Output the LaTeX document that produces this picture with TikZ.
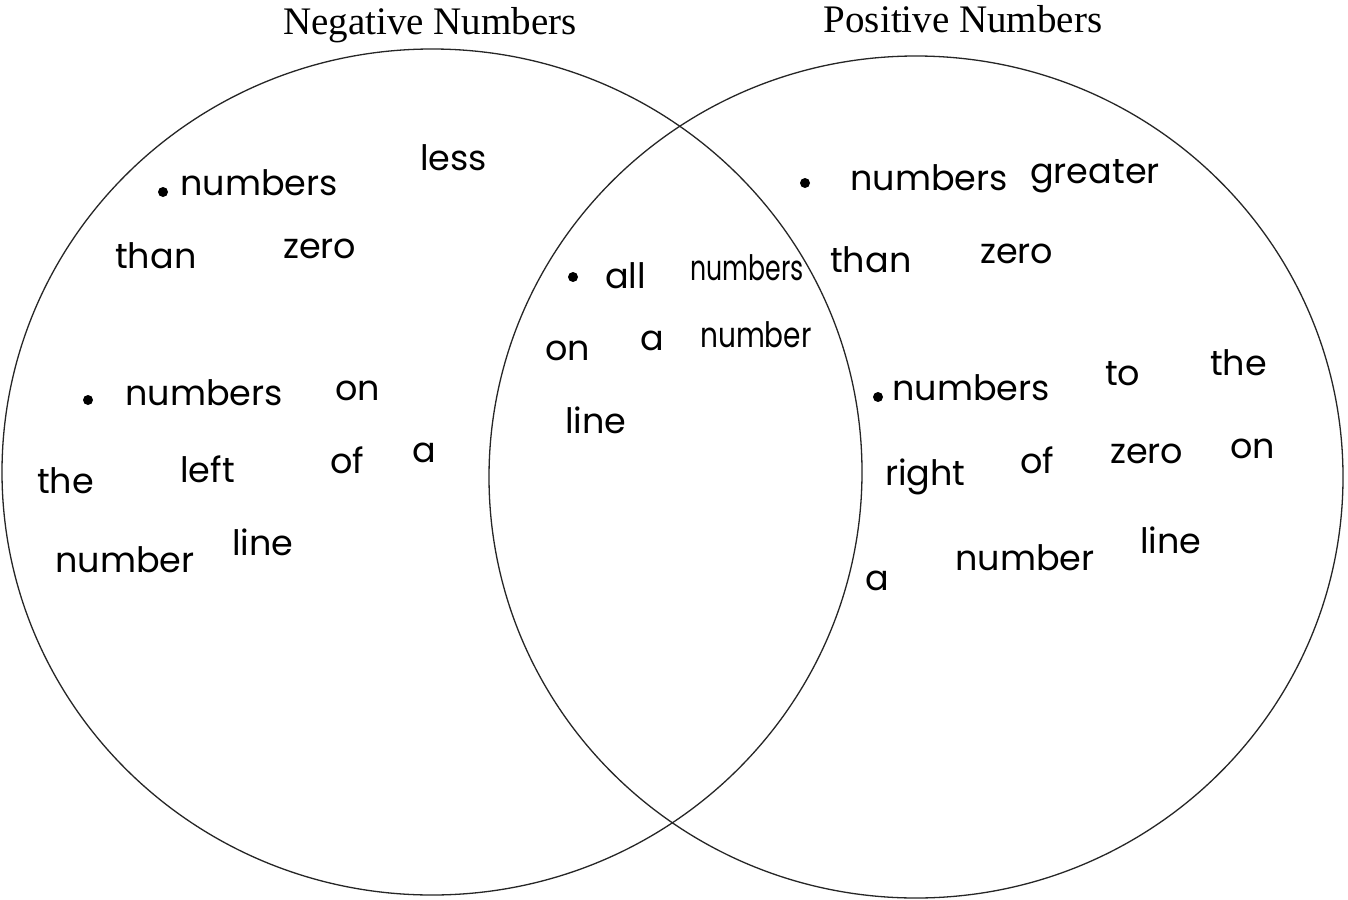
\documentclass[tikz,border=0pt]{standalone}
\usepackage{fontspec}
\setmainfont{Liberation Serif}
\newfontfamily\hwfont{Poppins}
\begin{document}
\begin{tikzpicture}[x=1pt,y=-1pt,
  ring/.style={draw=black!85,line width=1.3pt},
  title/.style={inner sep=0pt,anchor=base,font=\fontsize{39}{42}\selectfont},
  hw/.style={inner sep=0pt,anchor=base west,font=\hwfont\fontsize{35}{38}\selectfont},
  dot/.style={fill=black,circle,inner sep=0pt,minimum size=10pt}]
\useasboundingbox (0,0) rectangle (1348,899);
\fill[white] (0,0) rectangle (1348,899);
% circles
\draw[ring] (432,472) ellipse [x radius=430,y radius=423];
\draw[ring] (916,477) ellipse [x radius=427,y radius=421];
% titles
\node[title] (tneg) at (430,35) {Negative Numbers};
\node[title] (tpos) at (963,33) {Positive Numbers};
% left set
\node[dot] (b1) at (163,192) {};
\node[hw] (l1a) at (180,195) {numbers};
\node[hw] (l1b) at (420,170) {less};
\node[hw] (l2a) at (115,268) {than};
\node[hw] (l2b) at (283,258) {zero};
\node[dot] (b2) at (88,400) {};
\node[hw] (l3a) at (125,405) {numbers};
\node[hw] (l3b) at (335,400) {on};
\node[hw] (l4a) at (37,493) {the};
\node[hw] (l4b) at (180,482) {left};
\node[hw] (l4c) at (330,473) {of};
\node[hw] (l4d) at (412,462) {a};
\node[hw] (l5a) at (55,572) {number};
\node[hw] (l5b) at (232,555) {line};
% middle set
\node[dot] (b3) at (573,277) {};
\node[hw] (m1a) at (605,288) {all};
\node[hw] (m1b) at (690,280) {\scalebox{0.72}[1]{numbers}};
\node[hw] (m2a) at (545,360) {on};
\node[hw] (m2b) at (640,350) {a};
\node[hw] (m2c) at (700,347) {\scalebox{0.8}[1]{number}};
\node[hw] (m3a) at (565,433) {line};
% right set
\node[dot] (b4) at (805,183) {};
\node[hw] (r1a) at (850,190) {numbers};
\node[hw] (r1b) at (1030,183) {greater};
\node[hw] (r2a) at (830,272) {than};
\node[hw] (r2b) at (980,263) {zero};
\node[dot] (b5) at (878,397) {};
\node[hw] (r3a) at (892,400) {numbers};
\node[hw] (r3b) at (1105,385) {to};
\node[hw] (r3c) at (1210,375) {the};
\node[hw] (r4a) at (885,485) {right};
\node[hw] (r4b) at (1020,473) {of};
\node[hw] (r4c) at (1110,463) {zero};
\node[hw] (r4d) at (1230,458) {on};
\node[hw] (r5a) at (865,590) {a};
\node[hw] (r5b) at (955,570) {number};
\node[hw] (r5c) at (1140,553) {line};
\end{tikzpicture}
\end{document}
